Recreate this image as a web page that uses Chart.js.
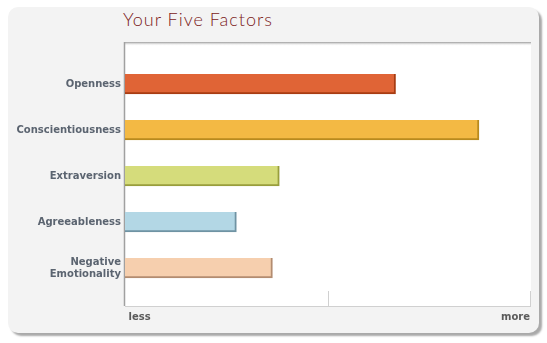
<!DOCTYPE html>
<html>
<head>
<meta charset="utf-8">
<script src="https://cdn.jsdelivr.net/npm/chart.js@4.4.1/dist/chart.umd.min.js"></script>
<style>
  html, body { margin: 0; padding: 0; background: #fff; }
  #wrap { position: relative; width: 547px; height: 343px; }
  #panel {
    position: absolute; left: 8px; top: 7px; width: 531px; height: 326px;
    background: #f3f3f3; border-radius: 10px;
    box-shadow: 3px 3px 2px #a9a9a9;
  }
  #title {
    position: absolute; left: 123px; top: 8px; margin: 0;
    font: 300 18px Lato, "DejaVu Sans", sans-serif; color: #7b1a1a;
    letter-spacing: 1px;
  }
  canvas { position: absolute; left: 0; top: 0; }
</style>
</head>
<body>
<div id="wrap">
  <div id="panel"></div>
  <h1 id="title">Your Five Factors</h1>
  <canvas id="chart" width="547" height="343"></canvas>
</div>
<script>
// fattori e punteggi (0 = less, 100 = more)
const factors = ['Openness', 'Conscientiousness', 'Extraversion', 'Agreeableness', ['Negative', 'Emotionality']];
const scores = [66.8, 87.4, 38.1, 27.5, 36.4];
const fills = ['#e06436', '#f3b944', '#d5dc7b', '#b3d7e5', '#f6cfae'];
const edges = ['#a83c12', '#b88a1e', '#989e3c', '#6f93a3', '#b38c70'];
const axisLabels = { 0: ' less', 100: 'more' };

const ctx = document.querySelector('#chart');

// sfondo bianco, cornice e tacche in basso
const plotFrame = {
  id: 'plotFrame',
  beforeDraw(chart) {
    const { ctx, chartArea: a } = chart;
    ctx.save();
    ctx.fillStyle = '#fff';
    ctx.fillRect(a.left, a.top, a.right - a.left + 1, a.bottom - a.top);
    const g = ctx.createLinearGradient(0, a.top, 0, a.top + 4);
    g.addColorStop(0, '#9a9a9a');
    g.addColorStop(1, 'rgba(255,255,255,0)');
    ctx.fillStyle = g;
    ctx.fillRect(a.left, a.top, a.right - a.left + 1, 4);
    ctx.strokeStyle = '#a0a0a0';
    ctx.lineWidth = 1.5;
    ctx.beginPath();
    ctx.moveTo(a.left - 0.5, a.top);
    ctx.lineTo(a.left - 0.5, a.bottom);
    ctx.stroke();
    ctx.strokeStyle = '#d0d0d0';
    ctx.lineWidth = 1;
    ctx.beginPath();
    ctx.moveTo(a.left, a.bottom + 0.5);
    ctx.lineTo(a.right + 1, a.bottom + 0.5);
    const x = chart.scales.x;
    x.ticks.forEach(t => {
      if (t.value === x.min) return;
      const px = Math.round(x.getPixelForValue(t.value)) + 0.5;
      ctx.moveTo(px, a.bottom - 15);
      ctx.lineTo(px, a.bottom);
    });
    ctx.stroke();
    ctx.restore();
  }
};

const chart = new Chart(ctx, {
  type: 'bar',
  data: {
    datasets: [{
      data: scores.map((v, i) => ({ x: v, y: i })),
      backgroundColor: fills,
      borderColor: edges,
      borderWidth: { top: 0, left: 0, right: 2, bottom: 2 },
      borderSkipped: false,
      barThickness: 20
    }]
  },
  options: {
    indexAxis: 'y',
    responsive: false,
    animation: false,
    layout: { padding: { top: 42, right: 17, left: 0, bottom: 0 } },
    plugins: { legend: { display: false }, tooltip: { enabled: false } },
    scales: {
      x: {
        min: 0, max: 100,
        grid: { display: false, drawTicks: false, tickLength: 0 },
        border: { display: false },
        ticks: {
          stepSize: 50,
          align: 'inner',
          padding: 5,
          color: '#5a5a5a',
          font: { family: 'DejaVu Sans', size: 10, weight: 'bold' },
          callback: v => axisLabels[v] || ''
        },
        afterFit: s => { s.height = 37; }
      },
      y: {
        type: 'linear',
        reverse: true,
        offset: false,
        bounds: 'data',
        min: -0.913, max: 4.826,
        grid: { display: false, drawTicks: false, tickLength: 0 },
        border: { display: false },
        afterBuildTicks: s => { s.ticks = factors.map((f, i) => ({ value: i })); },
        ticks: {
          padding: 4,
          color: '#5b6470',
          font: { family: 'DejaVu Sans', size: 10, weight: 'bold' },
          callback: v => factors[v]
        },
        afterFit: s => { s.width = 125; }
      }
    }
  },
  plugins: [plotFrame]
});
</script>
</body>
</html>
